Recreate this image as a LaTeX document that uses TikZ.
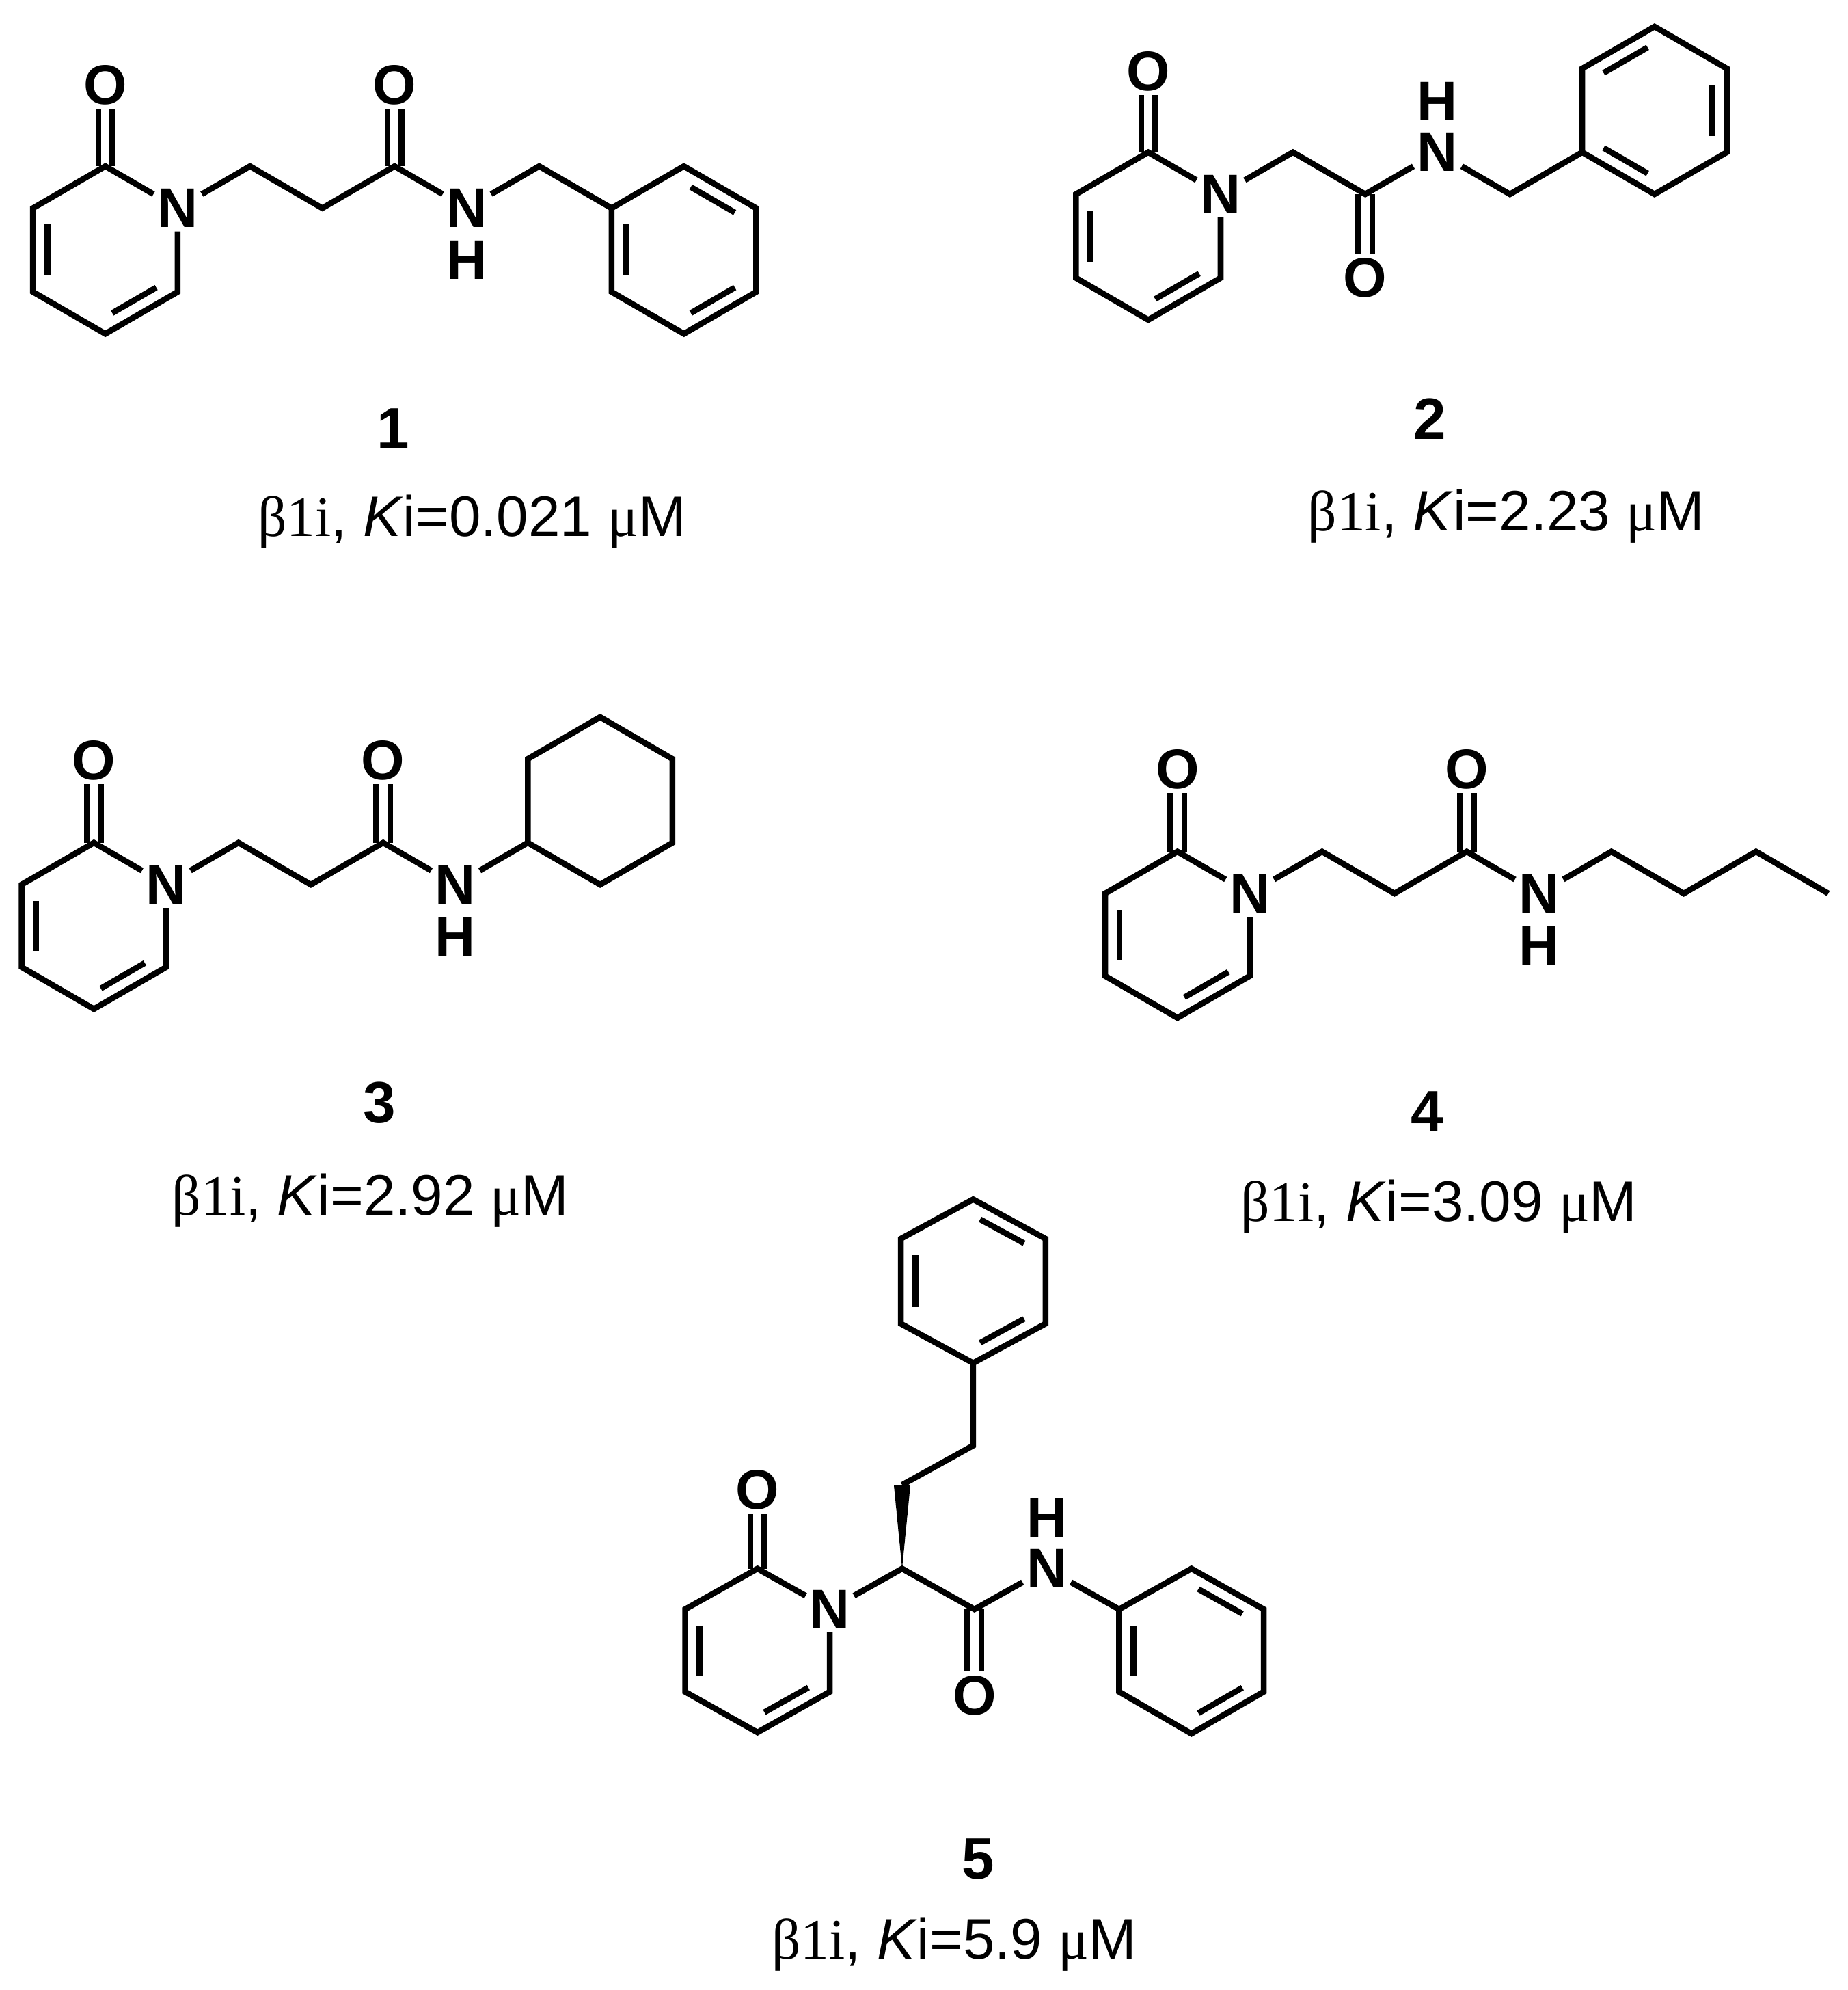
\documentclass[tikz,border=0pt]{standalone}
\usepackage{fontspec}
\setmainfont{Liberation Sans}
\newfontfamily\grk{Liberation Serif}
\usetikzlibrary{calc}
\tikzset{
  atom/.style={font=\fontsize{44}{44}\selectfont\bfseries, inner sep=3pt},
  cpd/.style={font=\fontsize{46}{46}\selectfont\bfseries},
  ki/.style={font=\fontsize{45}{45}\selectfont},
  bond/.style={line width=4.6pt, line join=miter, line cap=butt}
}
\newcommand\innerbond[3]{\draw[bond] ($ ($(#1)!.12!(#2)$)!.2!(#3) $) -- ($ ($(#2)!.12!(#1)$)!.2!(#3) $);}
\newcommand\carbonyl[3]{\draw[bond] ([xshift=-5.5pt]#1) -- ([xshift=-5.5pt]#2.#3); \draw[bond] ([xshift=5.5pt]#1) -- ([xshift=5.5pt]#2.#3);}
\newcommand\kitext[1]{{\grk β1i}, \textit{K}i=#1 {\grk μ}M}
\begin{document}
\begin{tikzpicture}[x=1pt,y=-1pt]
\useasboundingbox (0,0) rectangle (1456,1568);
% ---------- 1 ----------
\coordinate (a1) at (83,131); \node[atom] (n1) at (140,164) {N};
\coordinate (a3) at (140,230); \coordinate (a4) at (83,263);
\coordinate (a5) at (26,230); \coordinate (a6) at (26,164);
\coordinate (ac) at (83,197); \node[atom] (o1) at (83,67) {O};
\coordinate (b1) at (197,131); \coordinate (b2) at (254,164); \coordinate (b3) at (311,131);
\node[atom] (o2) at (311,67) {O}; \node[atom] (nh1) at (368,164) {N}; \node[atom] (h1) at (368,205) {H};
\coordinate (b4) at (425,131);
\coordinate (p1) at (482,164); \coordinate (p2) at (539,131); \coordinate (p3) at (596,164);
\coordinate (p4) at (596,230); \coordinate (p5) at (539,263); \coordinate (p6) at (482,230);
\coordinate (pc) at (539,197);
\draw[bond] (n1) -- (a3) -- (a4) -- (a5) -- (a6) -- (a1) -- (n1);
\draw[bond] (n1) -- (b1) -- (b2) -- (b3) -- (nh1) -- (b4) -- (p1);
\draw[bond] (p1) -- (p2) -- (p3) -- (p4) -- (p5) -- (p6) -- cycle;
\carbonyl{a1}{o1}{south} \carbonyl{b3}{o2}{south}
\innerbond{a6}{a5}{ac} \innerbond{a3}{a4}{ac}
\innerbond{p2}{p3}{pc} \innerbond{p1}{p6}{pc} \innerbond{p4}{p5}{pc}
\node[cpd] (l1) at (310,338) {1};
\node[ki] (k1) at (372,411) {\kitext{0.021}};
% ---------- 2 ----------
\coordinate (c1) at (905,120); \node[atom] (n2) at (962,153) {N};
\coordinate (c3) at (962,219); \coordinate (c4) at (905,252);
\coordinate (c5) at (848,219); \coordinate (c6) at (848,153);
\coordinate (cc) at (905,186); \node[atom] (o3) at (905,56) {O};
\coordinate (d1) at (1019,120); \coordinate (d2) at (1076,153);
\node[atom] (o4) at (1076,219) {O}; \node[atom] (nh2) at (1133,120) {N}; \node[atom] (h2) at (1133,80) {H};
\coordinate (d3) at (1190,153);
\coordinate (q1) at (1247,120); \coordinate (q2) at (1247,54); \coordinate (q3) at (1304,21);
\coordinate (q4) at (1361,54); \coordinate (q5) at (1361,120); \coordinate (q6) at (1304,153);
\coordinate (qc) at (1304,87);
\draw[bond] (n2) -- (c3) -- (c4) -- (c5) -- (c6) -- (c1) -- (n2);
\draw[bond] (n2) -- (d1) -- (d2) -- (nh2) -- (d3) -- (q1);
\draw[bond] (q1) -- (q2) -- (q3) -- (q4) -- (q5) -- (q6) -- cycle;
\carbonyl{c1}{o3}{south} \carbonyl{d2}{o4}{north}
\innerbond{c6}{c5}{cc} \innerbond{c3}{c4}{cc}
\innerbond{q2}{q3}{qc} \innerbond{q4}{q5}{qc} \innerbond{q6}{q1}{qc}
\node[cpd] (l2) at (1127,330) {2};
\node[ki] (k2) at (1187,407) {\kitext{2.23}};
% ---------- 3 ----------
\coordinate (e1) at (74,664); \node[atom] (n3) at (131,697) {N};
\coordinate (e3) at (131,762); \coordinate (e4) at (74,795);
\coordinate (e5) at (17,762); \coordinate (e6) at (17,697);
\coordinate (ec) at (74,730); \node[atom] (o5) at (74,599) {O};
\coordinate (f1) at (188,664); \coordinate (f2) at (245,697); \coordinate (f3) at (302,664);
\node[atom] (o6) at (302,599) {O}; \node[atom] (nh3) at (359,697) {N}; \node[atom] (h3) at (359,738) {H};
\coordinate (r1) at (416,664); \coordinate (r2) at (473,697); \coordinate (r3) at (530,664);
\coordinate (r4) at (530,598); \coordinate (r5) at (473,565); \coordinate (r6) at (416,598);
\draw[bond] (n3) -- (e3) -- (e4) -- (e5) -- (e6) -- (e1) -- (n3);
\draw[bond] (n3) -- (f1) -- (f2) -- (f3) -- (nh3) -- (r1);
\draw[bond] (r1) -- (r2) -- (r3) -- (r4) -- (r5) -- (r6) -- cycle;
\carbonyl{e1}{o5}{south} \carbonyl{f3}{o6}{south}
\innerbond{e6}{e5}{ec} \innerbond{e3}{e4}{ec}
\node[cpd] (l3) at (299,869) {3};
\node[ki] (k3) at (292,946) {\kitext{2.92}};
% ---------- 4 ----------
\coordinate (g1) at (928,671); \node[atom] (n4) at (985,704) {N};
\coordinate (g3) at (985,769); \coordinate (g4) at (928,802);
\coordinate (g5) at (871,769); \coordinate (g6) at (871,704);
\coordinate (gc) at (928,737); \node[atom] (o7) at (928,606) {O};
\coordinate (i1) at (1042,671); \coordinate (i2) at (1099,704); \coordinate (i3) at (1156,671);
\node[atom] (o8) at (1156,606) {O}; \node[atom] (nh4) at (1213,704) {N}; \node[atom] (h4) at (1213,745) {H};
\coordinate (i4) at (1270,671); \coordinate (i5) at (1327,704); \coordinate (i6) at (1384,671); \coordinate (i7) at (1441,704);
\draw[bond] (n4) -- (g3) -- (g4) -- (g5) -- (g6) -- (g1) -- (n4);
\draw[bond] (n4) -- (i1) -- (i2) -- (i3) -- (nh4) -- (i4) -- (i5) -- (i6) -- (i7);
\carbonyl{g1}{o7}{south} \carbonyl{i3}{o8}{south}
\innerbond{g6}{g5}{gc} \innerbond{g3}{g4}{gc}
\node[cpd] (l4) at (1125,876) {4};
\node[ki] (k4) at (1134,951) {\kitext{3.09}};
% ---------- 5 ----------
\coordinate (j1) at (597,1236); \node[atom] (n5) at (654,1268) {N};
\coordinate (j3) at (654,1333); \coordinate (j4) at (597,1365);
\coordinate (j5) at (540,1333); \coordinate (j6) at (540,1268);
\coordinate (jc) at (597,1301); \node[atom] (o9) at (597,1174) {O};
\coordinate (s1) at (711,1236); \coordinate (w1) at (711,1170); \coordinate (s2) at (767,1139);
\coordinate (t1) at (767,1074); \coordinate (t2) at (710,1043); \coordinate (t3) at (710,976);
\coordinate (t4) at (767,945); \coordinate (t5) at (824,976); \coordinate (t6) at (824,1043);
\coordinate (tc) at (767,1009);
\coordinate (s3) at (768,1268); \node[atom] (o10) at (768,1336) {O};
\node[atom] (nh5) at (825,1236) {N}; \node[atom] (h5) at (825,1196) {H};
\coordinate (u1) at (882,1268); \coordinate (u2) at (882,1333); \coordinate (u3) at (939,1366);
\coordinate (u4) at (996,1333); \coordinate (u5) at (996,1268); \coordinate (u6) at (939,1236);
\coordinate (uc) at (939,1301);
\draw[bond] (n5) -- (j3) -- (j4) -- (j5) -- (j6) -- (j1) -- (n5);
\draw[bond] (n5) -- (s1) -- (s3) -- (nh5) -- (u1);
\fill (s1) -- ([xshift=-6.5pt]w1) -- ([xshift=6.5pt]w1) -- cycle;
\draw[bond] (w1) -- (s2) -- (t1);
\draw[bond] (t1) -- (t2) -- (t3) -- (t4) -- (t5) -- (t6) -- cycle;
\draw[bond] (u1) -- (u2) -- (u3) -- (u4) -- (u5) -- (u6) -- cycle;
\carbonyl{j1}{o9}{south} \carbonyl{s3}{o10}{north}
\innerbond{j6}{j5}{jc} \innerbond{j3}{j4}{jc}
\innerbond{t4}{t5}{tc} \innerbond{t3}{t2}{tc} \innerbond{t6}{t1}{tc}
\innerbond{u1}{u2}{uc} \innerbond{u6}{u5}{uc} \innerbond{u3}{u4}{uc}
\node[cpd] (l5) at (771,1465) {5};
\node[ki] (k5) at (752,1532) {\kitext{5.9}};
\end{tikzpicture}
\end{document}
